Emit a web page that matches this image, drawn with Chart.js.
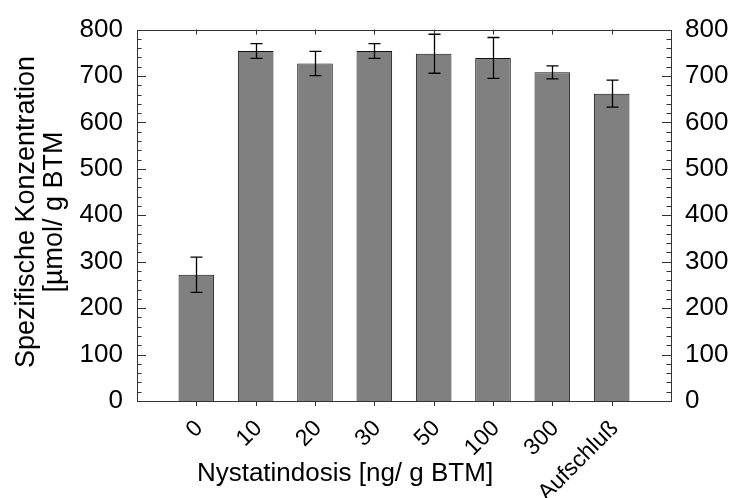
<!DOCTYPE html>
<html>
<head>
<meta charset="utf-8">
<script src="https://cdn.jsdelivr.net/npm/chart.js@4/dist/chart.umd.min.js"></script>
<style>
  html, body { margin: 0; padding: 0; background: #fff; }
  #wrap { width: 730px; height: 498px; }
</style>
</head>
<body>
<div id="wrap"><canvas id="c" width="730" height="498"></canvas></div>
<script>
// Nystatin dose groups and measured specific concentration (µmol / g BTM)
const categories = ['0', '10', '20', '30', '50', '100', '300', 'Aufschluß'];
const concentration = [272, 754, 727, 754, 748, 739, 708, 662];
const errors = [38, 16, 26, 16, 42, 44, 14, 29];
const yTicks = [0, 100, 200, 300, 400, 500, 600, 700, 800];

const FONT = 'Liberation Sans, Arial, Helvetica, sans-serif';

// empty slots at both ends give one category of space beside each outer bar
const labels = ['', ...categories, ''];
const barData = [null, ...concentration, null];
const errData = [null, ...errors, null];

const frameAndTicks = {
  id: 'frameAndTicks',
  afterDraw(chart) {
    const { ctx, chartArea: a, scales } = chart;
    const y = scales.y, x = scales.x;
    ctx.save();
    ctx.strokeStyle = '#333';
    ctx.lineWidth = 1;
    ctx.strokeRect(Math.round(a.left) + 0.5, Math.round(a.top) + 0.5,
                   Math.round(a.right - a.left), Math.round(a.bottom - a.top));
    ctx.beginPath();
    // y ticks: major every 100, minor every 20, pointing inward on both sides
    for (let v = 0; v <= 800; v += 20) {
      const py = Math.round(y.getPixelForValue(v)) + 0.5;
      const len = (v % 100 === 0) ? 9 : 4.5;
      ctx.moveTo(a.left, py); ctx.lineTo(a.left + len, py);
      ctx.moveTo(a.right, py); ctx.lineTo(a.right - len, py);
    }
    // category ticks: outward on the bottom, inward on the top
    for (let i = 1; i <= categories.length; i++) {
      const px = Math.round(x.getPixelForValue(i)) + 0.5;
      ctx.moveTo(px, a.bottom); ctx.lineTo(px, a.bottom + 5);
      ctx.moveTo(px, a.top); ctx.lineTo(px, a.top + 5);
    }
    ctx.stroke();

    // axis titles
    ctx.fillStyle = '#000';
    ctx.textAlign = 'center';
    ctx.textBaseline = 'alphabetic';
    ctx.font = '26px ' + FONT;
    ctx.fillText('Nystatindosis [ng/ g BTM]', 345, 481);
    ctx.font = '27px ' + FONT;
    ctx.save();
    ctx.translate(34, 212);
    ctx.rotate(-Math.PI / 2);
    ctx.fillText('Spezifische Konzentration', 0, 0);
    ctx.restore();
    ctx.save();
    ctx.translate(62, 212);
    ctx.rotate(-Math.PI / 2);
    ctx.fillText('[µmol/ g BTM', 0, 0);
    ctx.restore();
    ctx.restore();
  }
};

const errorBars = {
  id: 'errorBars',
  afterDatasetsDraw(chart) {
    const { ctx, scales } = chart;
    const meta = chart.getDatasetMeta(0);
    ctx.save();
    ctx.strokeStyle = '#000';
    ctx.lineWidth = 1.3;
    meta.data.forEach((bar, i) => {
      const v = barData[i], e = errData[i];
      if (v == null) return;
      const x = Math.round(bar.x) + 0.5;
      const yt = scales.y.getPixelForValue(v + e);
      const yb = scales.y.getPixelForValue(v - e);
      ctx.beginPath();
      ctx.moveTo(x, yt); ctx.lineTo(x, yb);
      ctx.moveTo(x - 6, yt); ctx.lineTo(x + 6, yt);
      ctx.moveTo(x - 6, yb); ctx.lineTo(x + 6, yb);
      ctx.stroke();
    });
    ctx.restore();
  }
};

new Chart(document.getElementById('c'), {
  type: 'bar',
  data: {
    labels: labels,
    datasets: [{
      data: barData,
      backgroundColor: '#808080',
      borderColor: '#111',
      borderWidth: 1,
      categoryPercentage: 1,
      barPercentage: 0.6
    }]
  },
  options: {
    responsive: false,
    animation: false,
    layout: { padding: { top: 24, left: 0, right: 0, bottom: 0 } },
    plugins: { legend: { display: false }, tooltip: { enabled: false } },
    scales: {
      x: {
        type: 'category',
        offset: false,
        grid: { display: false, drawTicks: false },
        border: { display: false },
        ticks: {
          autoSkip: false,
          maxRotation: 45,
          minRotation: 45,
          padding: 14,
          labelOffset: 3,
          color: '#000',
          font: { family: FONT, size: 23 }
        },
        afterFit(s) { s.height = 97; }
      },
      y: {
        position: 'left',
        min: 0, max: 800,
        grid: { display: false, drawTicks: false },
        border: { display: false },
        afterBuildTicks(s) { s.ticks = yTicks.map(v => ({ value: v })); },
        ticks: { padding: 14, color: '#000', font: { family: FONT, size: 26 } },
        afterFit(s) { s.width = 137; }
      },
      y2: {
        position: 'right',
        min: 0, max: 800,
        grid: { display: false, drawTicks: false },
        border: { display: false },
        afterBuildTicks(s) { s.ticks = yTicks.map(v => ({ value: v })); },
        ticks: { padding: 14, color: '#000', font: { family: FONT, size: 26 } },
        afterFit(s) { s.width = 59; }
      }
    }
  },
  plugins: [errorBars, frameAndTicks]
});
</script>
</body>
</html>
